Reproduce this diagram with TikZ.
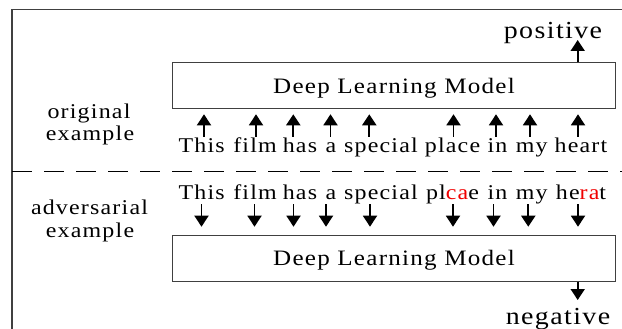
\documentclass[tikz,border=0pt]{standalone}
\usepackage{fontspec}
\usepackage{graphicx}
\setmainfont{Liberation Serif}[LetterSpace=5]
\usetikzlibrary{arrows.meta}
\definecolor{linegray}{gray}{0.25}
\definecolor{advred}{RGB}{240,0,0}
\newcommand{\sx}[1]{\scalebox{1.14}[1]{#1}}
\begin{document}
\begin{tikzpicture}[x=1pt,y=-1pt,
  txt/.style={anchor=base, inner sep=0pt, font=\fontsize{21}{23}\selectfont},
  outtxt/.style={anchor=base, inner sep=0pt, font=\fontsize{24.5}{27}\selectfont},
  model/.style={draw=linegray, line width=1pt, minimum width=443.4pt, minimum height=46.3pt,
    inner sep=0pt, text height=15pt, text depth=0pt, font=\fontsize{22}{24}\selectfont},
  arr/.style={line width=1.9pt, -{Triangle[width=14pt,length=11pt]}},
  sep/.style={line width=1.6pt, dash pattern=on 20pt off 12pt}
]
\useasboundingbox (0,0) rectangle (622,329);
\clip (0,0) rectangle (622,329);
% frame
\draw[linegray, line width=1.2pt] (12,340) -- (12,9.3) -- (640,9.3);
% separator
\coordinate (sl) at (12,171.5);
\coordinate (sr) at (640,171.5);
\draw[sep] (sl) -- (sr);
% models
\node[model] (m1) at (394,85.85) {\sx{Deep Learning Model}};
\node[model] (m2) at (394,258.15) {\sx{Deep Learning Model}};
% side labels
\node[txt] (l1a) at (89,119) {\sx{original}};
\node[txt] (l1b) at (90,141) {\sx{example}};
\node[txt] (l2a) at (89.5,214.3) {\sx{adversarial}};
\node[txt] (l2b) at (90,237.3) {\sx{example}};
% outputs
\node[outtxt] (pos) at (553,39) {\sx{positive}};
\node[outtxt] (neg) at (558,324) {\sx{negative}};
% top sentence
\foreach \n/\x/\w in {1/201.7/This,2/255/film,3/300/has,4/331/a,5/381/special,6/452.5/place,7/497.5/in,8/531.7/my,9/581/heart}
  \node[txt] (t\n) at (\x,153) {\sx{\w}};
% bottom sentence
\foreach \n/\x/\w in {1/201.7/This,2/255/film,3/300/has,4/331/a,5/381/special,7/497.5/in,8/531.7/my}
  \node[txt] (b\n) at (\x,199.5) {\sx{\w}};
\node[txt] (b6) at (452.5,199.5) {\sx{pl\textcolor{advred}{ca}e}};
\node[txt] (b9) at (581,199.5) {\sx{he\textcolor{advred}{ra}t}};
% top arrows
\foreach \n/\x in {1/204,2/256,3/293.3,4/330.5,5/369.3,6/453.5,7/496,8/530,9/578}{
  \coordinate (ts\n) at (\x,136.7);
  \coordinate (te\n) at (\x,114.3);
  \draw[arr] (ts\n) -- (te\n);
}
% bottom arrows
\foreach \n/\x in {1/201.5,2/254.5,3/293.5,4/326,5/370,6/453,7/493.5,8/528.3,9/578}{
  \coordinate (bs\n) at (\x,204);
  \coordinate (be\n) at (\x,226.7);
  \draw[arr] (bs\n) -- (be\n);
}
% output arrows
\coordinate (pt) at (577.7,40);
\draw[arr] (m1.north -| pt) -- (pt);
\coordinate (nt) at (577.7,300);
\draw[arr] (m2.south -| nt) -- (nt);
\end{tikzpicture}
\end{document}
